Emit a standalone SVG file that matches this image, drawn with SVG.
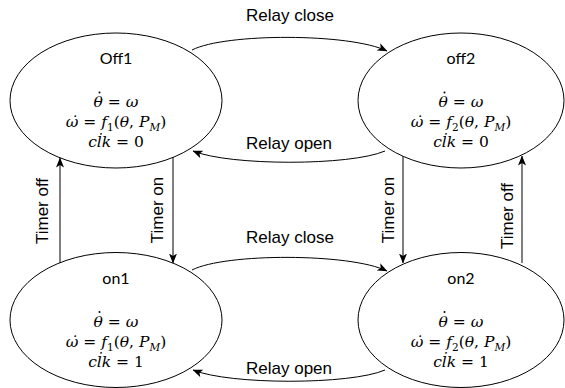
<svg xmlns="http://www.w3.org/2000/svg" width="565" height="388" viewBox="0 0 565 388">
<style>
.node ellipse{fill:#fff;stroke:#000;stroke-width:1}
.name{font-family:Lato,"Open Sans",sans-serif;font-size:16px;text-anchor:middle;fill:#000}
.m{font-family:"DejaVu Serif",serif;font-size:15.5px;text-anchor:middle;fill:#000}
.i{font-style:italic}
.sub{font-size:10.5px}
.dot{fill:#000}
.lbl{font-family:"Liberation Sans",Arial,sans-serif;font-size:17px;fill:#000;text-anchor:middle}
.edge{fill:none;stroke:#000;stroke-width:1;marker-end:url(#arr)}
</style>
<defs>
<marker id="arr" markerUnits="userSpaceOnUse" markerWidth="10" markerHeight="10" viewBox="0 0 10 10" refX="9.5" refY="5" orient="auto">
<path d="M0,1 L10,5 L0,9 L2.5,5 Z" fill="#000"/>
</marker>
</defs>
<g id="off1" class="node">
<ellipse cx="116" cy="100.5" rx="106" ry="67.5"/>
<text class="name" x="116" y="64">Off1</text>
<text class="m" x="116" y="107"><tspan class="i">θ</tspan> = <tspan class="i">ω</tspan></text>
<circle class="dot" cx="99.5" cy="92.5" r="1"/>
<text class="m" x="116" y="127"><tspan class="i">ω̇</tspan> = <tspan class="i">f</tspan><tspan class="sub" dy="4">1</tspan><tspan dy="-4">(</tspan><tspan class="i">θ</tspan>, <tspan class="i">P</tspan><tspan class="i sub" dy="4">M</tspan><tspan dy="-4">)</tspan></text>
<text class="m" x="116" y="147"><tspan class="i">cl̇k</tspan> = 0</text>
</g>
<g id="off2" class="node">
<ellipse cx="461" cy="100.5" rx="103" ry="67.5"/>
<text class="name" x="461" y="64">off2</text>
<text class="m" x="461" y="107"><tspan class="i">θ</tspan> = <tspan class="i">ω</tspan></text>
<circle class="dot" cx="444.5" cy="92.5" r="1"/>
<text class="m" x="461" y="127"><tspan class="i">ω̇</tspan> = <tspan class="i">f</tspan><tspan class="sub" dy="4">2</tspan><tspan dy="-4">(</tspan><tspan class="i">θ</tspan>, <tspan class="i">P</tspan><tspan class="i sub" dy="4">M</tspan><tspan dy="-4">)</tspan></text>
<text class="m" x="461" y="147"><tspan class="i">cl̇k</tspan> = 0</text>
</g>
<g id="on1" class="node">
<ellipse cx="116" cy="320" rx="106" ry="67.5"/>
<text class="name" x="116" y="284">on1</text>
<text class="m" x="116" y="326.5"><tspan class="i">θ</tspan> = <tspan class="i">ω</tspan></text>
<circle class="dot" cx="99.5" cy="312" r="1"/>
<text class="m" x="116" y="346.5"><tspan class="i">ω̇</tspan> = <tspan class="i">f</tspan><tspan class="sub" dy="4">1</tspan><tspan dy="-4">(</tspan><tspan class="i">θ</tspan>, <tspan class="i">P</tspan><tspan class="i sub" dy="4">M</tspan><tspan dy="-4">)</tspan></text>
<text class="m" x="116" y="366.5"><tspan class="i">cl̇k</tspan> = 1</text>
</g>
<g id="on2" class="node">
<ellipse cx="461" cy="320" rx="103" ry="67.5"/>
<text class="name" x="461" y="284">on2</text>
<text class="m" x="461" y="326.5"><tspan class="i">θ</tspan> = <tspan class="i">ω</tspan></text>
<circle class="dot" cx="444.5" cy="312" r="1"/>
<text class="m" x="461" y="346.5"><tspan class="i">ω̇</tspan> = <tspan class="i">f</tspan><tspan class="sub" dy="4">2</tspan><tspan dy="-4">(</tspan><tspan class="i">θ</tspan>, <tspan class="i">P</tspan><tspan class="i sub" dy="4">M</tspan><tspan dy="-4">)</tspan></text>
<text class="m" x="461" y="366.5"><tspan class="i">cl̇k</tspan> = 1</text>
</g>
<g id="connectors">
<path class="edge" d="M192,50 C225,33 350,33 387,51"/>
<path class="edge" d="M385,151 C350,166 230,166 193,151"/>
<path class="edge" d="M192,270 C225,253 350,253 387,271"/>
<path class="edge" d="M385,370 C350,385 230,385 193,370"/>
<path class="edge" d="M60,263 L60,158"/>
<path class="edge" d="M173,157 L173,263"/>
<path class="edge" d="M403,156 L403,263"/>
<path class="edge" d="M522,263 L522,156"/>
<text class="lbl" x="290" y="21">Relay close</text>
<text class="lbl" x="289" y="149">Relay open</text>
<text class="lbl" x="290" y="243">Relay close</text>
<text class="lbl" x="289" y="374">Relay open</text>
<text class="lbl" transform="translate(48,211) rotate(-90)">Timer off</text>
<text class="lbl" transform="translate(163,210) rotate(-90)">Timer on</text>
<text class="lbl" transform="translate(394,210) rotate(-90)">Timer on</text>
<text class="lbl" transform="translate(513,216) rotate(-90)">Timer off</text>
</g>
</svg>
